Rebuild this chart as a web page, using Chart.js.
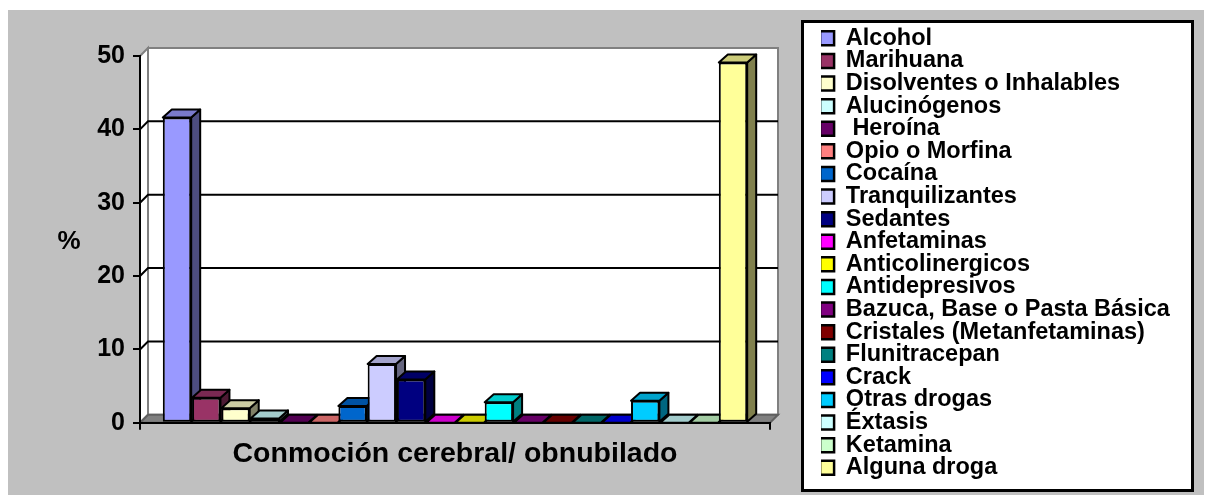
<!DOCTYPE html>
<html lang="es">
<head>
  <meta charset="UTF-8">
  <title>Conmoción cerebral/ obnubilado</title>
  <script src="https://cdn.jsdelivr.net/npm/chart.js@4.4.1/dist/chart.umd.min.js"></script>
  <style>
    html, body { margin: 0; padding: 0; background: #fff; }
    .chart-box { width: 1209px; height: 495px; }
  </style>
</head>
<body>
  <div class="chart-box"><canvas id="chart" width="1209" height="495"></canvas></div>

  <script>
    // datos
    const categories = ['Conmoción cerebral/ obnubilado'];
    const seriesNames = [
      'Alcohol', 'Marihuana', 'Disolventes o Inhalables', 'Alucinógenos', ' Heroína',
      'Opio o Morfina', 'Cocaína', 'Tranquilizantes', 'Sedantes', 'Anfetaminas',
      'Anticolinergicos', 'Antidepresivos', 'Bazuca, Base o Pasta Básica',
      'Cristales (Metanfetaminas)', 'Flunitracepan', 'Crack', 'Otras drogas',
      'Éxtasis', 'Ketamina', 'Alguna droga'
    ];
    const seriesValues = [41.6, 3.4, 2.0, 0.6, 0, 0, 2.3, 8.0, 5.9, 0, 0, 2.8, 0, 0, 0, 0, 3.0, 0, 0, 49.1];
    const seriesColors = [
      '#9999ff', '#993366', '#ffffcc', '#ccffff', '#660066',
      '#ff8080', '#0066cc', '#ccccff', '#000080', '#ff00ff',
      '#ffff00', '#00ffff', '#800080', '#800000', '#008080',
      '#0000ff', '#00ccff', '#ccffff', '#ccffcc', '#ffff99'
    ];
    const yMin = 0;
    const yMax = 50;
    const yStep = 10;
    const yTitle = '%';

    const FONT = '"Liberation Sans", Arial, sans-serif';
    const WALL_DX = 8, WALL_DY = 8;   // profundidad de las paredes
    const BAR_DX = 9, BAR_DY = 8;     // profundidad de las barras

    function shade(hex, f) {
      const n = parseInt(hex.slice(1), 16);
      const r = Math.round(((n >> 16) & 255) * f);
      const g = Math.round(((n >> 8) & 255) * f);
      const b = Math.round((n & 255) * f);
      return `rgb(${r},${g},${b})`;
    }

    function poly(ctx, pts, fill, stroke) {
      ctx.beginPath();
      ctx.moveTo(pts[0][0], pts[0][1]);
      for (let i = 1; i < pts.length; i++) ctx.lineTo(pts[i][0], pts[i][1]);
      ctx.closePath();
      if (fill) { ctx.fillStyle = fill; ctx.fill(); }
      if (stroke) { ctx.strokeStyle = stroke; ctx.stroke(); }
    }

    // fondo gris, marco de la leyenda, paredes 3D y barras 3D
    const box3d = {
      id: 'box3d',
      afterLayout(chart) {
        const lg = chart.legend;
        lg.left = 821; lg.right = 1192;
        lg.top = 27.5; lg.bottom = 492;
        lg.width = lg.right - lg.left;
        lg.height = lg.bottom - lg.top;
      },
      beforeDraw(chart) {
        const ctx = chart.ctx;
        const ys = chart.scales.y;
        const L = chart.chartArea.left, R = chart.chartArea.right;
        const T = ys.getPixelForValue(yMax), B = ys.getPixelForValue(yMin);
        ctx.save();
        ctx.fillStyle = '#c0c0c0';
        ctx.fillRect(8, 10, 1196, 485);

        // marco leyenda
        ctx.fillStyle = '#fff';
        ctx.fillRect(802, 21, 391, 470);
        ctx.lineWidth = 3;
        ctx.strokeStyle = '#000';
        ctx.strokeRect(802.5, 21.5, 390, 469);

        // paredes
        ctx.lineWidth = 2;
        ctx.lineJoin = 'miter';
        poly(ctx, [[L + WALL_DX, T - WALL_DY], [R + WALL_DX, T - WALL_DY], [R + WALL_DX, B - WALL_DY], [L + WALL_DX, B - WALL_DY]], '#fff', '#808080');
        poly(ctx, [[L, T], [L + WALL_DX, T - WALL_DY], [L + WALL_DX, B - WALL_DY], [L, B]], '#fff', '#808080');
        poly(ctx, [[L, B], [L + WALL_DX, B - WALL_DY], [R + WALL_DX, B - WALL_DY], [R, B]], '#808080', '#606060');

        // lineas de division
        ctx.strokeStyle = '#000';
        ys.ticks.forEach(t => {
          if (t.value <= yMin || t.value >= yMax) return;
          const py = ys.getPixelForValue(t.value);
          ctx.beginPath();
          ctx.moveTo(L, py);
          ctx.lineTo(L + WALL_DX, py - WALL_DY);
          ctx.lineTo(R + WALL_DX, py - WALL_DY);
          ctx.stroke();
        });

        // titulo eje y
        ctx.fillStyle = '#000';
        ctx.font = 'bold 26px ' + FONT;
        ctx.textAlign = 'center';
        ctx.textBaseline = 'middle';
        ctx.fillText(yTitle, 69, 242);
        ctx.restore();
      },
      beforeDatasetsDraw(chart) {
        const ctx = chart.ctx;
        ctx.save();
        ctx.lineWidth = 2;
        ctx.lineJoin = 'round';
        chart.data.datasets.forEach((ds, i) => {
          chart.getDatasetMeta(i).data.forEach(bar => {
            const { x, y, base, width } = bar.getProps(['x', 'y', 'base', 'width'], true);
            const l = x - width / 2, r = x + width / 2;
            poly(ctx, [[r, y], [r + BAR_DX, y - BAR_DY], [r + BAR_DX, base - BAR_DY], [r, base]], shade(ds.backgroundColor, 0.5), '#000');
            poly(ctx, [[l, y], [l + BAR_DX, y - BAR_DY], [r + BAR_DX, y - BAR_DY], [r, y]], shade(ds.backgroundColor, 0.8), '#000');
          });
        });
        ctx.restore();
      }
    };

    const datasets = seriesNames.map((name, i) => ({
      label: name,
      data: [seriesValues[i]],
      backgroundColor: seriesColors[i],
      borderColor: '#000',
      borderWidth: 2,
      borderSkipped: false,
      barPercentage: 0.97,
      categoryPercentage: 0.929
    }));

    new Chart(document.getElementById('chart'), {
      type: 'bar',
      data: { labels: categories, datasets: datasets },
      options: {
        responsive: false,
        animation: false,
        font: { family: FONT },
        layout: { padding: { left: 8, top: 56, right: 439, bottom: 17 } },
        scales: {
          x: {
            offset: true,
            grid: { offset: true, drawOnChartArea: false, tickLength: 7, color: '#000', lineWidth: 2 },
            border: { color: '#000', width: 2 },
            ticks: { color: '#000', font: { family: FONT, size: 28.5, weight: 'bold' }, padding: 7, maxRotation: 0 }
          },
          y: {
            min: yMin,
            max: yMax,
            grid: { drawOnChartArea: false, tickLength: 7, color: '#000', lineWidth: 2 },
            border: { color: '#000', width: 2 },
            ticks: { stepSize: yStep, color: '#000', font: { family: FONT, size: 25, weight: 'bold' }, padding: 8 },
            afterFit(scale) { scale.width = 132; }
          }
        },
        plugins: {
          legend: {
            position: 'chartArea',
            align: 'start',
            labels: {
              boxWidth: 14,
              boxHeight: 14,
              padding: -0.9,
              color: '#000',
              font: { family: FONT, size: 23.5, weight: 'bold' },
              generateLabels(chart) {
                const items = Chart.defaults.plugins.legend.labels.generateLabels(chart);
                items.forEach(it => { it.lineWidth = 2.5; });
                return items;
              }
            }
          },
          tooltip: { enabled: false }
        }
      },
      plugins: [box3d]
    });
  </script>
</body>
</html>
